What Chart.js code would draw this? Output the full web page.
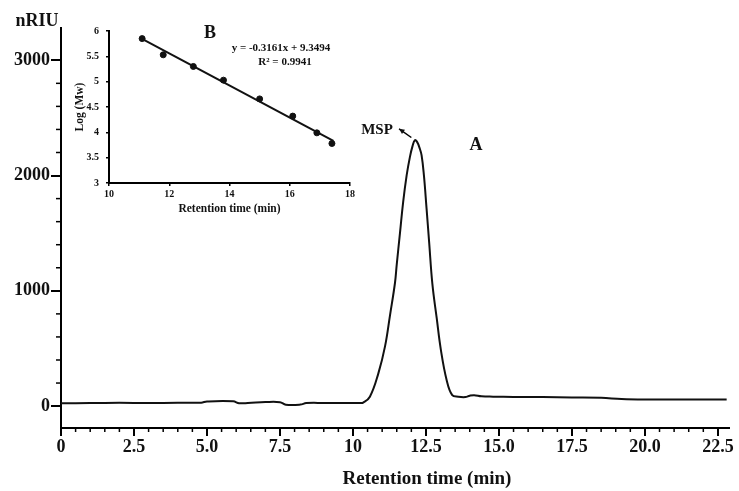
<!DOCTYPE html>
<html>
<head>
<meta charset="utf-8">
<script src="https://cdn.jsdelivr.net/npm/chart.js@4"></script>
<style>
  body { margin: 0; background: #fff; }
  #wrap { position: relative; width: 739px; height: 491px; }
  #main { position: absolute; left: 0; top: 0; }
  #inset { position: absolute; left: 70px; top: 18px; }
</style>
</head>
<body>
<div id="wrap">
  <canvas id="main" width="739" height="491"></canvas>
  <canvas id="inset" width="290" height="200"></canvas>
</div>
<script>
'use strict';

// chromatogram (A)
const retentionTime = [0, 1, 2, 3, 4, 4.8, 5.0, 5.9, 6.1, 6.4, 7.0, 7.5, 7.7, 8.2, 8.4, 9.0, 9.5, 10.0, 10.25,
    10.35, 10.58, 10.87, 11.10, 11.27, 11.44, 11.50, 11.61, 11.72, 11.84, 11.95, 12.04, 12.12, 12.20, 12.28,
    12.35, 12.43, 12.52, 12.61, 12.72, 12.87, 13.01, 13.21, 13.40, 13.61, 13.85, 14.0, 14.15, 14.4, 14.8,
    15.5, 16.5, 17.5, 18.5, 19.2, 20.0, 21.0, 22.0, 22.8];
const signalNRIU = [24, 26, 28, 27, 29, 30, 40, 41, 25, 26, 35, 34, 12, 13, 26, 27, 26, 27, 26,
    30, 81, 284, 520, 790, 1070, 1230, 1500, 1772, 2003, 2160, 2255, 2307, 2290, 2240,
    2177, 2003, 1717, 1420, 1060, 760, 490, 225, 95, 81, 78, 90, 95, 85, 82,
    80, 78, 75, 72, 62, 58, 58, 58, 57];
const xTickValues = [0, 2.5, 5, 7.5, 10, 12.5, 15, 17.5, 20, 22.5];
const xTickLabels = ['0', '2.5', '5.0', '7.5', '10', '12.5', '15.0', '17.5', '20.0', '22.5'];
const yTickValues = [0, 1000, 2000, 3000];
const yTickLabels = ['0', '1000', '2000', '3000'];

// calibration inset (B)
const insetTime = [11.1, 11.8, 12.8, 13.8, 15.0, 16.1, 16.9, 17.4];
const insetLogMw = [5.85, 5.53, 5.3, 5.03, 4.66, 4.32, 3.99, 3.78];
const fitTime = [11.05, 17.45];
const fitLogMw = [5.86, 3.83];
const insetXTicks = [10, 12, 14, 16, 18];
const insetXLabels = ['10', '12', '14', '16', '18'];
const insetYTicks = [3, 3.5, 4, 4.5, 5, 5.5, 6];
const insetYLabels = ['3', '3.5', '4', '4.5', '5', '5.5', '6'];

const SERIF = "'Liberation Serif', 'Times New Roman', serif";
Chart.defaults.font.family = SERIF;
Chart.defaults.color = '#111';

const mainText = {
    id: 'mainText',
    afterDraw(chart) {
        const ctx = chart.ctx;
        const xs = chart.scales.x;
        const ys = chart.scales.y;

        // minor ticks
        ctx.save();
        ctx.strokeStyle = '#000';
        ctx.lineWidth = 1.5;
        for (let v = 0.5; v < 22.6; v += 0.5) {
            if (Math.abs(v / 2.5 - Math.round(v / 2.5)) < 1e-6) continue;
            let px = xs.getPixelForValue(v);
            ctx.beginPath();
            ctx.moveTo(px, xs.top);
            ctx.lineTo(px, xs.top + 4);
            ctx.stroke();
        }
        for (let v = 200; v < 3000; v += 200) {
            if (v % 1000 === 0) continue;
            let py = ys.getPixelForValue(v);
            ctx.beginPath();
            ctx.moveTo(ys.right, py);
            ctx.lineTo(ys.right - 5, py);
            ctx.stroke();
        }

        ctx.fillStyle = '#111';
        ctx.textAlign = 'center';
        ctx.textBaseline = 'middle';
        ctx.font = 'bold 18px ' + SERIF;
        ctx.fillText('nRIU', 37, 21);
        ctx.fillText('A', 476, 145);
        ctx.font = 'bold 15px ' + SERIF;
        ctx.fillText('MSP', 377, 130);
        ctx.font = 'bold 19px ' + SERIF;
        ctx.fillText('Retention time (min)', 427, 479);

        // arrow from peak to the MSP label
        let x0 = xs.getPixelForValue(12.0), y0 = ys.getPixelForValue(2330);
        let x1 = xs.getPixelForValue(11.58), y1 = ys.getPixelForValue(2405);
        ctx.lineWidth = 1.5;
        ctx.beginPath();
        ctx.moveTo(x0, y0);
        ctx.lineTo(x1, y1);
        ctx.stroke();
        let a = Math.atan2(y1 - y0, x1 - x0);
        ctx.beginPath();
        ctx.moveTo(x1, y1);
        ctx.lineTo(x1 - 6 * Math.cos(a - 0.45), y1 - 6 * Math.sin(a - 0.45));
        ctx.lineTo(x1 - 6 * Math.cos(a + 0.45), y1 - 6 * Math.sin(a + 0.45));
        ctx.closePath();
        ctx.fill();
        ctx.restore();
    }
};

const insetText = {
    id: 'insetText',
    afterDraw(chart) {
        const ctx = chart.ctx;
        ctx.save();
        ctx.fillStyle = '#111';
        ctx.textAlign = 'center';
        ctx.textBaseline = 'middle';
        ctx.font = 'bold 18px ' + SERIF;
        ctx.fillText('B', 140, 15);
        ctx.font = 'bold 11px ' + SERIF;
        ctx.fillText('y = -0.3161x + 9.3494', 211, 30);
        ctx.fillText('R\u00b2 = 0.9941', 215, 44);
        ctx.restore();
    }
};

new Chart(document.querySelector('#main'), {
    type: 'line',
    data: {
        datasets: [
            {
                label: 'nRIU',
                data: retentionTime.map((t, i) => ({ x: t, y: signalNRIU[i] })),
                borderColor: '#111',
                borderWidth: 2,
                pointRadius: 0,
                tension: 0.4,
            },
        ],
    },
    options: {
        responsive: false,
        animation: false,
        layout: { padding: { left: 0, top: 28, right: 10, bottom: 0 } },
        plugins: { legend: { display: false }, tooltip: { enabled: false } },
        scales: {
            x: {
                type: 'linear',
                min: 0,
                max: 22.88,
                afterBuildTicks: s => { s.ticks = xTickValues.map(v => ({ value: v })); },
                afterFit: s => { s.height = 63; },
                ticks: {
                    padding: 1,
                    color: '#111',
                    font: { size: 18, weight: 'bold' },
                    maxRotation: 0,
                    callback: (v, i) => xTickLabels[i],
                },
                grid: { drawOnChartArea: false, color: '#000', lineWidth: 2, tickLength: 8 },
                border: { color: '#000', width: 2 },
            },
            y: {
                min: -190,
                max: 3280,
                afterBuildTicks: s => { s.ticks = yTickValues.map(v => ({ value: v })); },
                afterFit: s => { s.width = 61; },
                ticks: {
                    padding: 1,
                    color: '#111',
                    font: { size: 18, weight: 'bold' },
                    callback: (v, i) => yTickLabels[i],
                },
                grid: { drawOnChartArea: false, color: '#000', lineWidth: 2, tickLength: 10 },
                border: { color: '#000', width: 2 },
            },
        },
    },
    plugins: [mainText],
});

new Chart(document.querySelector('#inset'), {
    type: 'scatter',
    data: {
        datasets: [
            {
                label: 'fit',
                data: fitTime.map((t, i) => ({ x: t, y: fitLogMw[i] })),
                showLine: true,
                borderColor: '#111',
                borderWidth: 2,
                pointRadius: 0,
            },
            {
                label: 'standards',
                data: insetTime.map((t, i) => ({ x: t, y: insetLogMw[i] })),
                backgroundColor: '#111',
                borderColor: '#111',
                pointRadius: 3,
            },
        ],
    },
    options: {
        responsive: false,
        animation: false,
        layout: { padding: { left: 0, top: 11, right: 10, bottom: 0 } },
        plugins: { legend: { display: false }, tooltip: { enabled: false } },
        scales: {
            x: {
                min: 10,
                max: 18,
                afterBuildTicks: s => { s.ticks = insetXTicks.map(v => ({ value: v })); },
                afterFit: s => { s.height = 35; },
                ticks: {
                    padding: 2,
                    color: '#111',
                    font: { size: 10, weight: 'bold' },
                    maxRotation: 0,
                    callback: (v, i) => insetXLabels[i],
                },
                grid: { drawOnChartArea: false, color: '#000', lineWidth: 1.5, tickLength: 3 },
                border: { color: '#000', width: 2 },
                title: {
                    display: true,
                    text: 'Retention time (min)',
                    color: '#111',
                    font: { size: 11.5, weight: 'bold' },
                    padding: { top: 0, bottom: 2 },
                },
            },
            y: {
                min: 3,
                max: 6,
                afterBuildTicks: s => { s.ticks = insetYTicks.map(v => ({ value: v })); },
                afterFit: s => { s.width = 39; },
                ticks: {
                    padding: 7,
                    color: '#111',
                    font: { size: 10, weight: 'bold' },
                    callback: (v, i) => insetYLabels[i],
                },
                grid: { drawOnChartArea: false, color: '#000', lineWidth: 1.5, tickLength: 3 },
                border: { color: '#000', width: 2 },
                title: {
                    display: true,
                    text: 'Log (Mw)',
                    color: '#111',
                    font: { size: 11.5, weight: 'bold' },
                    padding: { top: 3, bottom: 0 },
                },
            },
        },
    },
    plugins: [insetText],
});
</script>
</body>
</html>
